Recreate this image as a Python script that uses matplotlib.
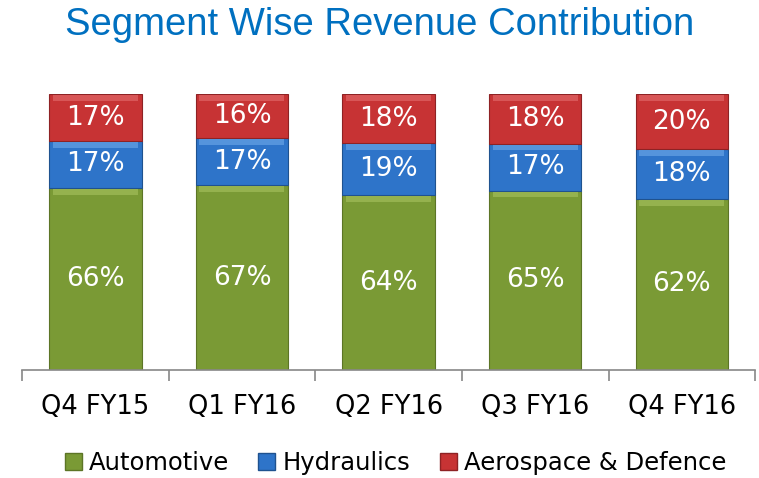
import numpy as np
import matplotlib.pyplot as plt
from matplotlib.patches import Patch

# data
quarters = ['Q4 FY15', 'Q1 FY16', 'Q2 FY16', 'Q3 FY16', 'Q4 FY16']
automotive = [66, 67, 64, 65, 62]
hydraulics = [17, 17, 19, 17, 18]
aerospace = [17, 16, 18, 18, 20]
series_names = ['Automotive', 'Hydraulics', 'Aerospace & Defence']

# colours: main, light bevel, dark edge
green = ('#7A9A35', '#9DB955', '#5C7526')
blue = ('#2E74C9', '#5F9DE2', '#1F528F')
red = ('#C73334', '#DD5F60', '#8E2224')

plt.rcParams['font.family'] = ['DejaVu Sans']

fig = plt.figure(figsize=(7.59, 4.78), dpi=100)
ax = fig.add_axes([0.029, 0.226, 0.966, 0.577])

x = np.arange(len(quarters))
width = 0.63
totals = np.array(automotive) + np.array(hydraulics) + np.array(aerospace)

bottom = np.zeros(len(quarters))
for vals, cols in [(automotive, green), (hydraulics, blue), (aerospace, red)]:
    h = np.array(vals) / totals * 100
    ax.bar(x, h, width, bottom=bottom, color=cols[0], edgecolor=cols[2], linewidth=0.8, zorder=2)
    # light bevel along top of each segment
    ax.bar(x, 2.0, width * 0.92, bottom=bottom + h - 2.4, color=cols[1], linewidth=0, alpha=0.8, zorder=3)
    for xi, b, hi, v in zip(x, bottom, h, vals):
        ax.text(xi, b + hi / 2, f'{v}%', ha='center', va='center', color='white',
                fontsize=19, zorder=4)
    bottom = bottom + h

ax.set_xlim(-0.5, len(quarters) - 0.5)
ax.set_ylim(0, 100)
ax.set_yticks([])
for s in ['top', 'right', 'left']:
    ax.spines[s].set_visible(False)
ax.spines['bottom'].set_color('#888888')
ax.spines['bottom'].set_linewidth(1.2)

ax.set_xticks(np.arange(-0.5, len(quarters), 1), minor=False)
ax.set_xticklabels([])
ax.tick_params(axis='x', which='major', length=8, color='#888888', width=1.2)
ax.set_xticks(x, minor=True)
ax.set_xticklabels(quarters, minor=True, fontsize=18.5)
ax.tick_params(axis='x', which='minor', length=0, pad=17)

fig.text(0.5, 0.948, 'Segment Wise Revenue Contribution', ha='center', va='center',
         color='#0070C0', fontsize=27.5, family=['Liberation Sans', 'DejaVu Sans'])

handles = [Patch(facecolor=c[0], edgecolor=c[2]) for c in (green, blue, red)]
fig.legend(handles, series_names, loc='center', bbox_to_anchor=(0.521, 0.031), ncol=3,
           frameon=False, fontsize=17.5, handlelength=0.7, handleheight=0.7,
           handletextpad=0.3, columnspacing=1.2, borderpad=0)

fig.savefig('out.png', dpi=100)
